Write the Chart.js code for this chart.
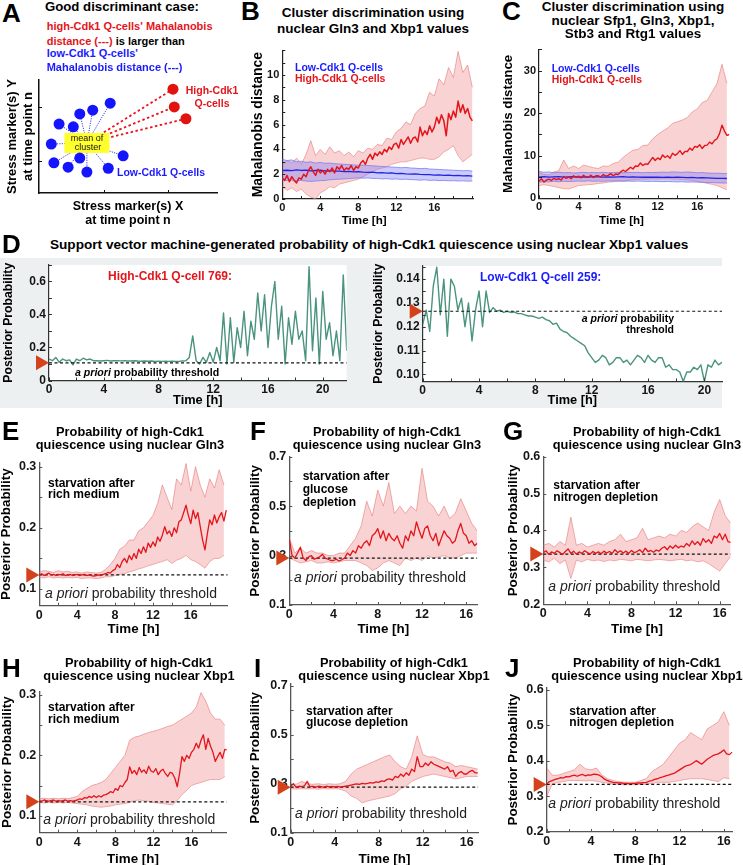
<!DOCTYPE html>
<html lang="en">
<head>
<meta charset="UTF-8">
<title>High-Cdk1 quiescence discrimination</title>
<script src="https://cdn.jsdelivr.net/npm/chart.js"></script>
<style>
    body { margin: 0; background: #fff; font-family: "Liberation Sans", Arial, Helvetica, sans-serif; }
    #fig { position: relative; width: 743px; height: 865px; overflow: hidden; background: #fff; }
    #fig canvas { position: absolute; z-index: 1; }
    .grey { position: absolute; left: 0; top: 258px; width: 722px; height: 150px; background: #ecf0f0; z-index: 0; }
    .lbl { position: absolute; white-space: nowrap; line-height: 1; z-index: 3; font-weight: bold; color: #000; }
    .l { transform: translateY(-50%); }
    .c { transform: translate(-50%, -50%); }
    .r { transform: translate(-100%, -50%); }
    .red { color: #e3151b; }
    .blue { color: #1a1aff; }
    .apriori { font-weight: normal; color: #222; }
</style>
</head>
<body>
<div id="fig"><div class="grey"></div></div>

<script>
// ---------- data ----------
// A: schematic cluster (arbitrary units)
const lowCdkX = [0.10, -0.17, -0.37, -0.69, -0.47, -0.81, -0.77, -0.55, -0.37, -0.26, 0.07, 0.30];
const lowCdkY = [1.07, 0.94, 0.87, 0.68, 0.63, 0.31, -0.04, -0.12, 0.05, -0.21, -0.14, 0.09];
const highCdkX = [1.07, 1.09, 1.27];
const highCdkY = [1.33, 1.00, 0.78];
const clusterMean = [-0.26, 0.33];

// sampling steps [h]
const DT_FINE = 0.25;
const DT_BAND = 0.5;

// B: Mahalanobis distance, Gln3 + Xbp1
const bHighMean = [1.7,1.5,1.9,1.4, 1.8,1.5,1.3,1.7, 1.6,2.0,1.8,2.3, 2.6,2.2,1.9,2.4, 2.1,2.3,2.0,2.4,
    2.2,2.5,2.1,2.6, 2.4,2.7,2.3,2.5, 2.4,2.7,2.3,2.6, 2.5,2.9,3.1,2.8, 3.3,3.6,3.2,3.7,
    3.5,3.8,3.6,4.0, 3.8,4.2,4.0,4.4, 4.5,4.1,4.8,4.4, 4.7,5.0,4.5,4.9, 5.0,4.6,5.8,5.1,
    5.5,5.2,5.9,5.4, 5.8,6.6,6.1,6.8, 6.3,5.1,6.9,6.4, 7.1,6.6,7.9,7.0, 7.6,6.9,7.3,6.6, 6.3];
const bHighUpper = [2.8,3.1,2.9,3.3,2.8,3.6,4.7,3.5,4.0,3.6,4.2,3.7,3.9,3.5,3.8,3.4,3.9,3.7,4.1,4.0,
    4.4,4.3,4.9,4.8,5.4,5.7,6.2,6.0,6.9,7.3,7.5,8.6,8.3,9.7,9.2,10.6,9.8,11.9,10.2,10.8,9.0];
const bHighLower = [1.0,0.7,0.9,0.6,0.8,0.4,0.15,0.0,0.5,0.7,1.0,0.9,1.2,1.3,1.4,1.5,1.6,1.8,2.0,2.2,
    2.4,2.5,2.6,2.8,2.9,3.0,3.0,3.1,3.2,3.3,3.3,3.2,3.2,3.4,3.8,4.0,4.3,3.5,3.0,3.3,3.6];
const bLowMean = [2.3,2.32,2.28,2.35,2.3,2.33,2.27,2.3,2.32,2.26,2.28,2.24,2.25,2.2,2.22,2.18,2.2,2.17,2.15,2.16,
    2.1,2.12,2.08,2.1,2.05,2.06,2.02,2.0,2.03,1.98,1.96,1.97,1.93,1.95,1.9,1.92,1.88,1.9,1.86,1.88,1.85];
const bLowUpper = [3.2,3.1,3.15,3.0,3.05,2.95,3.0,2.9,2.95,2.88,2.9,2.85,2.82,2.8,2.78,2.75,2.72,2.74,2.7,2.68,
    2.65,2.62,2.6,2.58,2.55,2.52,2.55,2.5,2.48,2.45,2.47,2.42,2.4,2.38,2.36,2.34,2.32,2.3,2.28,2.3,2.25];
const bLowLower = [1.55,1.5,1.52,1.48,1.5,1.45,1.42,1.45,1.48,1.5,1.55,1.58,1.6,1.62,1.65,1.68,1.7,1.68,1.7,1.66,
    1.65,1.62,1.64,1.6,1.62,1.58,1.6,1.56,1.55,1.52,1.55,1.5,1.52,1.48,1.5,1.47,1.48,1.45,1.47,1.44,1.45];

// C: Mahalanobis distance, Sfp1 + Gln3 + Xbp1 + Stb3 + Rtg1
const cHighMean = [4.0,4.6,3.8,4.3, 4.5,4.2,4.7,4.4, 4.6,4.3,5.1,4.7, 5.0,4.6,5.3,4.9, 5.2,4.8,5.4,5.0,
    5.0,5.4,4.9,5.3, 5.3,5.0,5.6,5.2, 5.4,5.8,5.3,5.7, 5.6,6.2,6.6,6.3, 6.8,7.3,6.9,7.6,
    7.5,8.3,7.7,8.1, 8.0,8.8,9.6,8.9, 9.5,9.1,10.2,9.6, 10.0,9.4,10.6,10.1, 10.5,11.2,10.3,11.0,
    11.0,11.8,11.3,12.2, 12.0,12.6,11.7,12.4, 12.5,13.2,12.8,13.6, 14.0,15.2,17.2,15.8, 14.8,15.0];
const cHighUpper = [6.0,5.6,5.5,6.2,6.5,9.0,7.0,7.6,7.0,7.8,7.5,7.2,7.0,7.6,7.5,8.2,8.5,9.6,10.5,11.3,
    11.5,12.4,12.5,14.0,15.0,15.8,16.5,17.6,18.0,18.4,19.0,20.3,21.0,22.5,23.0,25.0,27.0,31.5,27.0];
const cHighLower = [3.0,3.2,3.0,2.8,2.5,2.3,2.2,2.6,3.0,3.1,3.2,3.3,3.5,3.6,3.8,3.9,4.0,4.1,4.2,4.4,
    4.5,4.5,4.5,4.6,4.5,4.6,4.6,4.5,4.5,4.4,4.3,4.2,4.0,3.8,3.5,3.3,3.0,2.5,2.0];
const cLowMean = [5.0,5.1,5.0,5.05,5.1,5.0,5.05,5.1,5.0,5.05,5.0,5.1,5.05,5.0,5.05,5.0,5.05,5.1,5.0,5.05,
    5.0,4.95,5.0,4.95,5.0,4.9,4.95,4.9,4.95,4.9,4.85,4.9,4.8,4.85,4.8,4.75,4.7,4.7,4.65];
const cLowUpper = [6.3,6.1,6.2,6.0,6.1,6.0,6.05,5.95,6.0,6.1,6.0,6.05,6.0,6.1,6.0,6.05,6.1,6.0,6.1,6.05,
    6.1,6.0,6.1,6.05,6.1,6.15,6.1,6.2,6.15,6.1,6.2,6.1,6.0,6.05,5.95,5.9,5.9,5.85,5.8];
const cLowLower = [3.8,3.9,3.85,4.0,3.9,4.0,3.95,4.0,4.05,4.0,4.1,4.0,4.05,4.0,4.1,4.05,4.1,4.0,4.05,4.0,
    4.05,4.0,3.95,4.0,3.95,3.9,3.95,3.9,3.85,3.9,3.8,3.85,3.8,3.75,3.7,3.7,3.65,3.6,3.6];

// D: SVM posterior probability of single cells (Xbp1)
const dCell769 = [0.13,0.12,0.14,0.11, 0.13,0.12,0.125,0.095, 0.13,0.12,0.135,0.125, 0.13,0.12,0.12,0.118,
    0.12,0.122,0.118,0.12, 0.12,0.119,0.12,0.118, 0.118,0.12,0.118,0.117, 0.118,0.117,0.118,0.116,
    0.117,0.116,0.117,0.116, 0.117,0.115,0.116,0.118, 0.12,0.14,0.27,0.12, 0.1,0.14,0.11,0.17,
    0.11,0.2,0.12,0.41, 0.1,0.38,0.11,0.32, 0.2,0.42,0.15,0.36, 0.25,0.53,0.3,0.52,
    0.2,0.45,0.6,0.25, 0.45,0.1,0.38,0.22, 0.42,0.25,0.3,0.12, 0.69,0.18,0.5,0.1,
    0.54,0.25,0.35,0.15, 0.3,0.12,0.64,0.18];
const dCell259 = [0.121,0.127,0.118,0.137, 0.145,0.125,0.14,0.116, 0.14,0.137,0.127,0.132, 0.12,0.13,0.114,0.127,
    0.135,0.12,0.135,0.126, 0.128,0.1265,0.127,0.126, 0.1265,0.126,0.1262,0.1255, 0.1255,0.125,0.1245,0.1245,
    0.124,0.1235,0.124,0.123, 0.1225,0.121,0.1215,0.119, 0.118,0.1175,0.116,0.115, 0.114,0.113,0.112,0.109,
    0.107,0.105,0.106,0.108, 0.107,0.104,0.105,0.107, 0.107,0.105,0.106,0.104, 0.106,0.108,0.107,0.105,
    0.108,0.106,0.105,0.107, 0.107,0.103,0.104,0.102, 0.102,0.101,0.097,0.101, 0.101,0.103,0.102,0.104,
    0.097,0.104,0.103,0.106, 0.104,0.105];
const dThr769 = 0.107;
const dThr259 = 0.1265;

// E: Gln3, starvation after rich medium
const eMean = [0.123,0.125,0.122,0.124, 0.126,0.123,0.124,0.122, 0.124,0.123,0.125,0.122, 0.123,0.124,0.122,0.123,
    0.124,0.122,0.123,0.124, 0.122,0.123,0.122,0.121, 0.122,0.123,0.122,0.124,
    0.125,0.127,0.126,0.13, 0.132,0.14,0.135,0.145, 0.15,0.143,0.155,0.148, 0.158,0.15,0.165,0.158,
    0.169,0.16,0.175,0.168, 0.177,0.17,0.185,0.178, 0.188,0.202,0.19,0.195, 0.186,0.2,0.192,0.21,
    0.213,0.225,0.237,0.22, 0.207,0.229,0.215,0.225, 0.202,0.18,0.164,0.19, 0.213,0.205,0.221,0.208,
    0.218,0.225,0.211,0.229];
const eUpper = [0.128,0.13,0.129,0.127,0.13,0.128,0.129,0.127,0.128,0.126,0.128,0.127,0.126,0.127,
    0.132,0.14,0.15,0.165,0.17,0.18,0.18,0.195,0.2,0.21,0.22,0.24,0.27,0.25,0.23,0.28,0.27,0.305,0.26,0.3,
    0.27,0.25,0.28,0.265,0.295,0.27];
const eLower = [0.119,0.118,0.12,0.118,0.119,0.118,0.119,0.118,0.119,0.117,0.118,0.118,0.117,0.118,
    0.12,0.12,0.122,0.124,0.125,0.128,0.13,0.133,0.135,0.138,0.14,0.143,0.145,0.148,0.142,0.147,0.15,0.155,
    0.148,0.145,0.14,0.134,0.145,0.15,0.15,0.155];
const eThr = 0.123;

// F: Gln3, starvation after glucose depletion
const fMean = [0.368,0.30,0.29,0.31, 0.334,0.29,0.28,0.295, 0.30,0.285,0.29,0.295, 0.305,0.29,0.285,0.28,
    0.28,0.285,0.278,0.283, 0.29,0.31,0.30,0.32, 0.31,0.34,0.33,0.35, 0.36,0.34,0.38,0.39,
    0.409,0.37,0.40,0.36, 0.39,0.37,0.36,0.38, 0.35,0.33,0.38,0.36, 0.40,0.38,0.436,0.40,
    0.37,0.41,0.42,0.38, 0.36,0.39,0.34,0.37, 0.40,0.38,0.37,0.35, 0.36,0.40,0.43,0.39,
    0.38,0.35,0.36,0.34, 0.35];
const fUpper = [0.37,0.31,0.33,0.31,0.32,0.31,0.31,0.30,0.30,0.31,0.31,0.34,0.37,0.42,0.52,0.46,0.565,0.50,
    0.595,0.47,0.50,0.47,0.50,0.48,0.653,0.52,0.50,0.46,0.50,0.45,0.47,0.53,0.48,0.43,0.40];
const fLower = [0.29,0.28,0.27,0.275,0.28,0.27,0.27,0.275,0.27,0.275,0.28,0.28,0.28,0.27,0.26,0.24,0.25,0.27,
    0.28,0.27,0.26,0.29,0.28,0.29,0.28,0.30,0.29,0.295,0.30,0.29,0.29,0.30,0.31,0.31,0.31];
const fThr = 0.29;

// G: Gln3, starvation after nitrogen depletion
const gMean = [0.34,0.345,0.335,0.342, 0.338,0.345,0.34,0.335, 0.343,0.35,0.338,0.344, 0.336,0.342,0.338,0.345,
    0.34,0.336,0.343,0.338, 0.342,0.337,0.344,0.339, 0.343,0.338,0.348,0.34, 0.345,0.339,0.344,0.338,
    0.346,0.34,0.343,0.348, 0.34,0.352,0.343,0.346, 0.341,0.347,0.344,0.352, 0.356,0.348,0.358,0.352,
    0.36,0.353,0.358,0.355, 0.365,0.358,0.372,0.362, 0.37,0.36,0.378,0.368, 0.375,0.365,0.385,0.38,
    0.392,0.375,0.39,0.37, 0.368];
const gUpper = [0.36,0.365,0.355,0.37,0.36,0.436,0.36,0.365,0.355,0.36,0.365,0.36,0.37,0.375,0.39,0.37,0.375,
    0.38,0.406,0.375,0.38,0.385,0.38,0.39,0.385,0.4,0.395,0.41,0.42,0.41,0.40,0.45,0.484,0.44,0.42];
const gLower = [0.32,0.315,0.325,0.31,0.32,0.27,0.32,0.315,0.322,0.318,0.32,0.316,0.32,0.318,0.322,0.32,0.318,
    0.322,0.32,0.318,0.32,0.322,0.32,0.318,0.32,0.322,0.318,0.32,0.315,0.318,0.31,0.30,0.29,0.31,0.33];
const gThr = 0.336;

// H: Xbp1, starvation after rich medium
const hMean = [0.125,0.124,0.126,0.125, 0.124,0.125,0.126,0.124, 0.125,0.124,0.125,0.126, 0.124,0.125,0.124,0.125,
    0.126,0.128,0.127,0.13, 0.129,0.132,0.13,0.133, 0.13,0.133,0.131,0.134, 0.135,0.137,0.14,0.138,
    0.145,0.142,0.15,0.148, 0.155,0.16,0.181,0.17, 0.175,0.168,0.18,0.172, 0.176,0.17,0.182,0.174,
    0.172,0.178,0.168,0.174, 0.177,0.17,0.165,0.172, 0.17,0.162,0.148,0.17, 0.198,0.19,0.2,0.195,
    0.205,0.21,0.22,0.212, 0.225,0.234,0.21,0.228, 0.215,0.205,0.19,0.198, 0.205,0.195,0.21,0.209];
const hUpper = [0.128,0.129,0.128,0.129,0.128,0.129,0.128,0.13, 0.132,0.14,0.145,0.15,0.152,0.155,0.16,0.17,
    0.18,0.19,0.2,0.225,0.23,0.232,0.235,0.238,0.24,0.242,0.245,0.248,0.25,0.255,0.26,0.265,0.27,0.28,
    0.304,0.29,0.27,0.26,0.26,0.25];
const hLower = [0.122,0.121,0.122,0.121,0.122,0.121,0.122,0.121, 0.12,0.119,0.118,0.116,0.115,0.114,0.115,0.116,
    0.118,0.119,0.12,0.122,0.125,0.126,0.125,0.124,0.122,0.121,0.12,0.119,0.118,0.125,0.135,0.142,0.15,
    0.153,0.155,0.158,0.16,0.16,0.16,0.165];
const hThr = 0.123;

// I: Xbp1, starvation after glucose depletion
const iMean = [0.29,0.30,0.285,0.29, 0.288,0.292,0.31,0.287, 0.29,0.285,0.29,0.288, 0.286,0.29,0.287,0.289,
    0.287,0.289,0.286,0.288, 0.29,0.292,0.295,0.298, 0.30,0.298,0.302,0.30, 0.302,0.305,0.303,0.308,
    0.306,0.312,0.31,0.318, 0.32,0.315,0.33,0.325, 0.34,0.33,0.345,0.335, 0.36,0.35,0.411,0.37,
    0.37,0.385,0.375,0.39, 0.38,0.375,0.37,0.365, 0.36,0.37,0.35,0.355, 0.33,0.345,0.35,0.34,
    0.34,0.35,0.355,0.345, 0.345];
const iUpper = [0.30,0.298,0.31,0.30,0.298,0.30,0.297,0.30,0.298,0.30,0.31,0.34,0.36,0.37,0.38,0.39,0.40,0.41,
    0.418,0.39,0.37,0.36,0.41,0.496,0.42,0.41,0.41,0.40,0.39,0.385,0.37,0.375,0.37,0.365,0.36];
const iLower = [0.28,0.278,0.28,0.279,0.28,0.278,0.28,0.279,0.28,0.278,0.27,0.25,0.24,0.222,0.23,0.235,0.24,
    0.245,0.25,0.26,0.28,0.29,0.31,0.32,0.33,0.335,0.34,0.335,0.33,0.325,0.32,0.325,0.33,0.33,0.33];
const iThr = 0.286;

// J: Xbp1, starvation after nitrogen depletion
const jMean = [0.335,0.342,0.345,0.348, 0.35,0.353,0.352,0.356, 0.355,0.358,0.36,0.357, 0.36,0.362,0.358,0.361,
    0.36,0.363,0.362,0.36, 0.355,0.348,0.345,0.342, 0.34,0.339,0.338,0.338, 0.337,0.337,0.336,0.337,
    0.337,0.338,0.338,0.339, 0.34,0.343,0.345,0.348, 0.35,0.353,0.355,0.358, 0.36,0.363,0.365,0.37,
    0.375,0.38,0.385,0.388, 0.39,0.395,0.401,0.396, 0.391,0.398,0.405,0.41, 0.415,0.418,0.42,0.425,
    0.431,0.42,0.418,0.425];
const jUpper = [0.38,0.36,0.36,0.365,0.37,0.375,0.391,0.378,0.375,0.38,0.36,0.35,0.345,0.342,0.34,0.34,0.34,
    0.345,0.35,0.37,0.38,0.39,0.41,0.43,0.45,0.46,0.48,0.47,0.46,0.49,0.50,0.51,0.539,0.50];
const jLower = [0.30,0.335,0.34,0.342,0.345,0.345,0.345,0.344,0.345,0.343,0.34,0.338,0.335,0.334,0.333,0.333,
    0.333,0.334,0.335,0.337,0.34,0.34,0.34,0.342,0.345,0.348,0.35,0.35,0.35,0.348,0.345,0.342,0.353,0.35];
const jThr = 0.334;

// tick values and labels
const ticksT20 = [0, 2, 4, 6, 8, 10, 12, 14, 16, 18, 20];
const labelsT20 = ['0', '', '4', '', '8', '', '12', '', '16', '', ''];
const labelsT20D = ['0', '', '4', '', '8', '', '12', '', '16', '', '20'];
const ticksT18 = [0, 2, 4, 6, 8, 10, 12, 14, 16, 18];
const labelsT18 = ['0', '', '4', '', '8', '', '12', '', '16', ''];
const ticksT16 = [0, 2, 4, 6, 8, 10, 12, 14, 16];
const labelsT16 = ['0', '', '4', '', '8', '', '12', '', '16'];
const ticksYB = [0, 1, 2, 3, 4, 5, 6, 7, 8, 9, 10, 11, 12];
const labelsYB = ['0', '', '2', '', '4', '', '6', '', '8', '', '10', '', ''];
const ticksYC = [0, 5, 10, 15, 20, 25, 30, 35];
const labelsYC = ['0', '', '10', '', '20', '', '30', ''];
const ticksYD1 = [0, 0.1, 0.2, 0.3, 0.4, 0.5, 0.6, 0.7];
const labelsYD1 = ['0', '', '0.2', '', '0.4', '', '0.6', ''];
const ticksYD2 = [0.1, 0.105, 0.11, 0.115, 0.12, 0.125, 0.13, 0.135, 0.14, 0.145];
const labelsYD2 = ['0.10', '', '0.11', '', '0.12', '', '0.13', '', '0.14', ''];
const ticksYLow = [0.1, 0.15, 0.2, 0.25, 0.3];
const labelsYLow = ['0.1', '', '0.2', '', '0.3'];
const ticksYWide = [0.1, 0.2, 0.3, 0.4, 0.5, 0.6, 0.7];
const labelsYWide = ['0.1', '', '0.3', '', '0.5', '', '0.7'];
const ticksYMid = [0.2, 0.3, 0.4, 0.5, 0.6];
const labelsYMid = ['0.2', '0.3', '0.4', '0.5', '0.6'];

// ---------- drawing ----------
const FONT = '"Liberation Sans", Arial, Helvetica, sans-serif';
Chart.defaults.font.family = FONT;
const fig = document.getElementById('fig');

const RED = '#e3151b', BAND = 'rgba(240,150,150,0.42)', BAND_EDGE = 'rgba(232,118,118,0.6)';
const BLUE = '#2323e6', BBAND = 'rgba(120,120,245,0.38)', BBAND_EDGE = 'rgba(120,120,240,0.75)';
const TEAL = '#4a937e';

const pts = (arr, dt) => arr.map((v, i) => ({x: +(i * dt).toFixed(2), y: v}));

// inward ticks, threshold marker, plot background, mean box for A
const decor = {
    id: 'decor',
    defaults: {bg: null, marker: null, tick: 3, tickColor: '#333', box: null},
    beforeDraw(chart, args, o) {
        if (!o.bg) return;
        const {ctx, chartArea: a} = chart;
        ctx.save();
        ctx.fillStyle = o.bg;
        ctx.fillRect(a.left, a.top, a.right - a.left, a.bottom - a.top);
        ctx.restore();
    },
    afterDatasetDraw(chart, args, o) {
        if (!o.box || args.index !== o.box.after) return;
        const {ctx, scales} = chart;
        const x = scales.x.getPixelForValue(o.box.at[0]);
        const y = scales.y.getPixelForValue(o.box.at[1]);
        ctx.save();
        ctx.fillStyle = '#ffff2e';
        ctx.fillRect(x - 22.5, y - 10, 45, 20);
        ctx.fillStyle = '#111';
        ctx.font = '9px ' + FONT;
        ctx.textAlign = 'center';
        ctx.textBaseline = 'middle';
        ctx.fillText('mean of', x, y - 4.5);
        ctx.fillText('cluster', x + 1, y + 4.5);
        ctx.restore();
    },
    afterDraw(chart, args, o) {
        const {ctx, chartArea: a, scales} = chart;
        ctx.save();
        ctx.strokeStyle = o.tickColor;
        ctx.lineWidth = 1;
        scales.x.ticks.forEach(t => {
            const p = Math.round(scales.x.getPixelForValue(t.value)) + 0.5;
            ctx.beginPath(); ctx.moveTo(p, a.bottom); ctx.lineTo(p, a.bottom - o.tick); ctx.stroke();
        });
        scales.y.ticks.forEach(t => {
            const p = Math.round(scales.y.getPixelForValue(t.value)) + 0.5;
            ctx.beginPath(); ctx.moveTo(a.left, p); ctx.lineTo(a.left + o.tick, p); ctx.stroke();
        });
        if (o.marker != null) {
            const y = scales.y.getPixelForValue(o.marker);
            ctx.fillStyle = '#d4411b';
            ctx.beginPath();
            ctx.moveTo(a.left, y);
            ctx.lineTo(a.left - 13, y - 7.5);
            ctx.lineTo(a.left - 13, y + 7.5);
            ctx.closePath();
            ctx.fill();
        }
        ctx.restore();
    }
};
Chart.register(decor);

// g holds the plot box in page pixels (L,T,R,B) and where the axis titles sit
function makePanel(g, datasets, extra) {
    const cv = document.createElement('canvas');
    fig.appendChild(cv);
    const padT = 12, padR = 6;
    const yLH = g.yLH || g.yFont * 1.2;
    const xLH = g.xLH || g.xFont * 1.2;
    const left = Math.round(g.yTitleX - yLH / 2);
    const top = Math.round(g.T - padT);
    const w = Math.round(g.R + padR - left);
    const h = Math.round(g.xTitleY + xLH / 2 - top);
    cv.width = w; cv.height = h;
    cv.style.left = left + 'px'; cv.style.top = top + 'px';
    cv.style.width = w + 'px'; cv.style.height = h + 'px';
    const yW = g.L - left;
    const xH = h - (g.B - top);
    const tf = {size: g.tickFont, weight: 'bold'};
    return new Chart(cv, {
        type: 'line',
        data: {datasets},
        options: {
            responsive: false,
            animation: false,
            events: [],
            layout: {padding: {top: g.T - top, right: w - (g.R - left), left: 0, bottom: 0}},
            elements: {point: {radius: 0}, line: {tension: 0, borderJoinStyle: 'round'}},
            plugins: {legend: {display: false}, tooltip: {enabled: false}, decor: Object.assign({tickColor: g.axis}, extra)},
            scales: {
                x: {
                    type: 'linear', min: g.xMin, max: g.xMax,
                    afterFit: s => { s.height = xH; },
                    afterBuildTicks: s => { s.ticks = g.xTicks.map(v => ({value: v})); },
                    grid: {display: false, drawTicks: false},
                    border: {display: true, color: g.axis, width: g.axisW},
                    ticks: {autoSkip: false, maxRotation: 0, padding: 2, color: '#151515', font: tf,
                        callback: (v, i) => g.xLabels[i]},
                    title: {display: !!g.xTitle, text: g.xTitle, padding: 0, color: '#000',
                        font: {size: g.xFont, weight: 'bold', lineHeight: xLH / g.xFont}}
                },
                y: {
                    type: 'linear', min: g.yMin, max: g.yMax,
                    afterFit: s => { s.width = yW; },
                    afterBuildTicks: s => { s.ticks = g.yTicks.map(v => ({value: v})); },
                    grid: {display: false, drawTicks: false},
                    border: {display: true, color: g.axis, width: g.axisW},
                    ticks: {autoSkip: false, padding: 3, color: '#151515', font: tf,
                        callback: (v, i) => g.yLabels[i]},
                    title: {display: !!g.yTitle, text: g.yTitle, padding: 0, color: '#000',
                        font: {size: g.yFont, weight: 'bold', lineHeight: yLH / g.yFont}}
                }
            }
        }
    });
}

function band(mean, upper, lower, thr, xMax) {
    const ds = [{data: pts(mean, DT_FINE), borderColor: RED, borderWidth: 1.3}];
    if (thr != null) {
        ds.push({data: [{x: 0, y: thr}, {x: xMax, y: thr}], borderColor: '#111', borderWidth: 1.2, borderDash: [3, 2.5]});
    }
    ds.push({data: pts(upper, DT_BAND), borderColor: BAND_EDGE, borderWidth: 1, fill: '+1', backgroundColor: BAND});
    ds.push({data: pts(lower, DT_BAND), borderColor: BAND_EDGE, borderWidth: 1});
    return ds;
}

// ---- A: schematic ----
const meanPt = {x: clusterMean[0], y: clusterMean[1]};
const aData = [
    {data: lowCdkX.map((x, i) => ({x, y: lowCdkY[i]})), showLine: false, pointRadius: 5.5,
        pointBackgroundColor: '#1414ff', pointBorderWidth: 0},
    {data: highCdkX.map((x, i) => ({x, y: highCdkY[i]})), showLine: false, pointRadius: 5.5,
        pointBackgroundColor: '#e2120e', pointBorderWidth: 0},
    ...highCdkX.map((x, i) => ({data: [meanPt, {x, y: highCdkY[i]}], borderColor: '#e8141a',
        borderWidth: 1.8, borderDash: [2.5, 2.5]})),
    ...lowCdkX.map((x, i) => ({data: [meanPt, {x, y: lowCdkY[i]}], borderColor: '#3a3aff',
        borderWidth: 1, borderDash: [1.2, 1.2]}))
];
makePanel({L: 39, T: 80, R: 217, B: 193, yTitleX: 11.7, yFont: 13, yLH: 16,
    yTitle: ['Stress marker(s) Y', 'at time point n'], xTitleY: 221, xFont: 12.5, xLH: 14.3,
    xTitle: ['Stress marker(s) X', 'at time point n'], xMin: -1, xMax: 1.75, yMin: -0.6, yMax: 1.5,
    xTicks: [0, 1], xLabels: ['', ''], yTicks: [0, 1], yLabels: ['', ''], tickFont: 10, axis: '#111', axisW: 1.5},
    aData, {tick: 3, box: {at: clusterMean, after: 2}});

// ---- B ----
makePanel({L: 282.3, T: 50.2, R: 473.3, B: 199, yTitleX: 258, yFont: 14, yTitle: 'Mahalanobis distance',
    xTitleY: 220, xFont: 11.6, xTitle: null, xMin: 0, xMax: 20.1, yMin: 0, yMax: 12,
    xTicks: ticksT20, xLabels: labelsT20, yTicks: ticksYB, yLabels: labelsYB, tickFont: 11, axis: '#222', axisW: 1.2},
    [
        {data: pts(bHighMean, DT_FINE), borderColor: RED, borderWidth: 1.5},
        {data: pts(bLowMean, DT_BAND), borderColor: BLUE, borderWidth: 1.3},
        {data: pts(bLowUpper, DT_BAND), borderColor: BBAND_EDGE, borderWidth: 1, fill: '+1', backgroundColor: BBAND},
        {data: pts(bLowLower, DT_BAND), borderColor: BBAND_EDGE, borderWidth: 1},
        {data: pts(bHighUpper, DT_BAND), borderColor: BAND_EDGE, borderWidth: 1, fill: '+1', backgroundColor: BAND},
        {data: pts(bHighLower, DT_BAND), borderColor: BAND_EDGE, borderWidth: 1}
    ], {});

// ---- C ----
makePanel({L: 539, T: 49.4, R: 729.4, B: 198.3, yTitleX: 508, yFont: 13.3, yTitle: 'Mahalanobis distance',
    xTitleY: 220, xFont: 11.6, xTitle: null, xMin: 0, xMax: 19.25, yMin: 0, yMax: 35,
    xTicks: ticksT18, xLabels: labelsT18, yTicks: ticksYC, yLabels: labelsYC, tickFont: 11, axis: '#222', axisW: 1.2},
    [
        {data: pts(cHighMean, DT_FINE), borderColor: RED, borderWidth: 1.4},
        {data: pts(cLowMean, DT_BAND), borderColor: BLUE, borderWidth: 1.3},
        {data: pts(cLowUpper, DT_BAND), borderColor: BBAND_EDGE, borderWidth: 1, fill: '+1', backgroundColor: BBAND},
        {data: pts(cLowLower, DT_BAND), borderColor: BBAND_EDGE, borderWidth: 1},
        {data: pts(cHighUpper, DT_BAND), borderColor: BAND_EDGE, borderWidth: 1, fill: '+1', backgroundColor: BAND},
        {data: pts(cHighLower, DT_BAND), borderColor: BAND_EDGE, borderWidth: 1}
    ], {});

// ---- D ----
makePanel({L: 49, T: 265, R: 346.7, B: 380.5, yTitleX: 8.3, yFont: 12.2, yTitle: 'Posterior Probability',
    xTitleY: 400, xFont: 12.8, xTitle: 'Time [h]', xMin: 0, xMax: 21.75, yMin: 0, yMax: 0.7,
    xTicks: ticksT20, xLabels: labelsT20D, yTicks: ticksYD1, yLabels: labelsYD1, tickFont: 12, axis: '#333', axisW: 1.2},
    [
        {data: [{x: 0, y: dThr769}, {x: 21.75, y: dThr769}], borderColor: '#111', borderWidth: 1.2, borderDash: [3, 2.5]},
        {data: pts(dCell769, DT_FINE), borderColor: TEAL, borderWidth: 1.4}
    ], {bg: '#ffffff', marker: dThr769});

makePanel({L: 422.7, T: 266, R: 722, B: 381.5, yTitleX: 378, yFont: 12.2, yTitle: 'Posterior Probability',
    xTitleY: 400, xFont: 12.8, xTitle: 'Time [h]', xMin: 0, xMax: 21.25, yMin: 0.097, yMax: 0.1455,
    xTicks: ticksT20, xLabels: labelsT20D, yTicks: ticksYD2, yLabels: labelsYD2, tickFont: 12, axis: '#333', axisW: 1.2},
    [
        {data: [{x: 0, y: dThr259}, {x: 21.25, y: dThr259}], borderColor: '#111', borderWidth: 1.2, borderDash: [3, 2.5]},
        {data: pts(dCell259, DT_FINE), borderColor: TEAL, borderWidth: 1.4}
    ], {bg: '#ffffff', marker: dThr259});

// ---- E - J ----
const lowerRow = {yFont: 13.4, yTitle: 'Posterior Probability', xFont: 13.4, xTitle: 'Time [h]',
    xMin: 0, tickFont: 12.5, axis: '#555', axisW: 1.3};
makePanel(Object.assign({L: 39.3, T: 462.7, R: 227.7, B: 605.7, yTitleX: 6, xTitleY: 629, xMax: 19.9,
    yMin: 0.0727, yMax: 0.3065, xTicks: ticksT18, xLabels: labelsT18, yTicks: ticksYLow, yLabels: labelsYLow}, lowerRow),
    band(eMean, eUpper, eLower, eThr, 19.9), {marker: eThr});
makePanel(Object.assign({L: 289.3, T: 456.7, R: 477.3, B: 605, yTitleX: 255, xTitleY: 629, xMax: 17,
    yMin: 0.1, yMax: 0.7, xTicks: ticksT16, xLabels: labelsT16, yTicks: ticksYWide, yLabels: labelsYWide}, lowerRow),
    band(fMean, fUpper, fLower, fThr, 17), {marker: fThr});
makePanel(Object.assign({L: 543.3, T: 456.7, R: 730.7, B: 604.3, yTitleX: 512.7, xTitleY: 629, xMax: 17,
    yMin: 0.2, yMax: 0.6, xTicks: ticksT16, xLabels: labelsT16, yTicks: ticksYMid, yLabels: labelsYMid}, lowerRow),
    band(gMean, gUpper, gLower, gThr, 17), {marker: gThr});
makePanel(Object.assign({L: 39.3, T: 691.7, R: 226.7, B: 832.7, yTitleX: 7.3, xTitleY: 859.3, xMax: 19.7,
    yMin: 0.0718, yMax: 0.3055, xTicks: ticksT18, xLabels: labelsT18, yTicks: ticksYLow, yLabels: labelsYLow}, lowerRow),
    band(hMean, hUpper, hLower, hThr, 19.7), {marker: hThr});
makePanel(Object.assign({L: 290.7, T: 683.3, R: 478.3, B: 832.7, yTitleX: 255, xTitleY: 859.3, xMax: 17.05,
    yMin: 0.1, yMax: 0.711, xTicks: ticksT16, xLabels: labelsT16, yTicks: ticksYWide, yLabels: labelsYWide}, lowerRow),
    band(iMean, iUpper, iLower, iThr, 17.05), {marker: iThr});
makePanel(Object.assign({L: 546.7, T: 687.3, R: 732.7, B: 832, yTitleX: 512.7, xTitleY: 859.3, xMax: 16.8,
    yMin: 0.2, yMax: 0.6076, xTicks: ticksT16, xLabels: labelsT16, yTicks: ticksYMid, yLabels: labelsYMid}, lowerRow),
    band(jMean, jUpper, jLower, jThr, 16.8), {marker: jThr});

// ---------- text ----------
function txt(x, y, html, size, anchor, cls) {
    const d = document.createElement('div');
    d.className = 'lbl ' + (anchor || 'l') + (cls ? ' ' + cls : '');
    d.style.left = x + 'px';
    d.style.top = y + 'px';
    d.style.fontSize = size + 'px';
    d.innerHTML = html;
    fig.appendChild(d);
}

// panel letters
[['A', 2, 13.3], ['B', 241, 11], ['C', 502, 11], ['D', 2, 243.5], ['E', 2, 431], ['F', 250, 431],
 ['G', 503, 431], ['H', 2, 668.3], ['I', 254, 668], ['J', 505, 668]].forEach(([s, x, y]) => txt(x, y, s, 26));

// A
txt(45, 7.3, 'Good discriminant case:', 13.2);
txt(46.7, 26, "high-Cdk1 Q-cells' Mahalanobis", 11, 'l', 'red');
txt(46.7, 40.7, '<span class="red">distance (---)</span> is larger than', 11);
txt(46.7, 53.3, "low-Cdk1 Q-cells'", 11, 'l', 'blue');
txt(46.7, 66.7, 'Mahalanobis distance (---)', 11, 'l', 'blue');
txt(212, 90, 'High-Cdk1', 10.5, 'c', 'red');
txt(212, 102.7, 'Q-cells', 10.5, 'c', 'red');
txt(117, 172, 'Low-Cdk1 Q-cells', 10.5, 'l', 'blue');

// B, C
txt(373, 13.3, 'Cluster discrimination using', 13.5, 'c');
txt(373, 29.3, 'nuclear Gln3 and Xbp1 values', 13.5, 'c');
txt(295, 66.7, 'Low-Cdk1 Q-cells', 10.5, 'l', 'blue');
txt(295, 78.3, 'High-Cdk1 Q-cells', 10.5, 'l', 'red');
txt(364.2, 220, 'Time [h]', 11.6, 'c');
txt(633, 7.3, 'Cluster discrimination using', 13.5, 'c');
txt(633, 20.7, 'nuclear Sfp1, Gln3, Xbp1,', 13.5, 'c');
txt(633, 34.3, 'Stb3 and Rtg1 values', 13.5, 'c');
txt(551.7, 67.7, 'Low-Cdk1 Q-cells', 10.5, 'l', 'blue');
txt(551.7, 79, 'High-Cdk1 Q-cells', 10.5, 'l', 'red');
txt(621.5, 220, 'Time [h]', 11.6, 'c');

// D
txt(50, 245, 'Support vector machine-generated probability of high-Cdk1 quiescence using nuclear Xbp1 values', 13.6);
txt(108, 275.7, 'High-Cdk1 Q-cell 769:', 12, 'l', 'red');
txt(75, 372.3, '<i>a priori</i> probability threshold', 10.6);
txt(480, 276.7, 'Low-Cdk1 Q-cell 259:', 12, 'l', 'blue');
txt(674, 318.3, '<i>a priori</i> probability', 10.5, 'r');
txt(674, 329.3, 'threshold', 10.5, 'r');

// E - J titles
[[130, 431.5, 445, 'Gln3'], [387, 431.5, 445, 'Gln3'], [647, 431.5, 445, 'Gln3'],
 [139, 663.3, 675.5, 'Xbp1'], [394, 663.3, 675.5, 'Xbp1'], [647, 663.3, 675.5, 'Xbp1']].forEach(([x, y1, y2, m]) => {
    txt(x, y1, 'Probability of high-Cdk1', 12.8, 'c');
    txt(x, y2, 'quiescence using nuclear ' + m, 12.8, 'c');
});

// E - J condition notes and threshold labels
const apriori = '<i>a priori</i> probability threshold';
txt(48, 482.7, 'starvation after', 12); txt(48, 493.5, 'rich medium', 12);
txt(45, 593.3, apriori, 14, 'l', 'apriori');
txt(302.7, 476, 'starvation after', 12); txt(302.7, 489, 'glucose', 12); txt(302.7, 501.7, 'depletion', 12);
txt(294, 577.3, apriori, 14, 'l', 'apriori');
txt(553.3, 485, 'starvation after', 12); txt(553.3, 496.7, 'nitrogen depletion', 12);
txt(548.3, 585.7, apriori, 14, 'l', 'apriori');
txt(48, 707.3, 'starvation after', 12); txt(48, 719, 'rich medium', 12);
txt(43.3, 819.3, apriori, 14, 'l', 'apriori');
txt(306, 710.7, 'starvation after', 12); txt(306, 721.7, 'glucose depletion', 12);
txt(295, 813.3, apriori, 14, 'l', 'apriori');
txt(569.3, 711, 'starvation after', 12); txt(569.3, 721.7, 'nitrogen depletion', 12);
txt(548.3, 802.7, apriori, 14, 'l', 'apriori');
</script>
</body>
</html>
